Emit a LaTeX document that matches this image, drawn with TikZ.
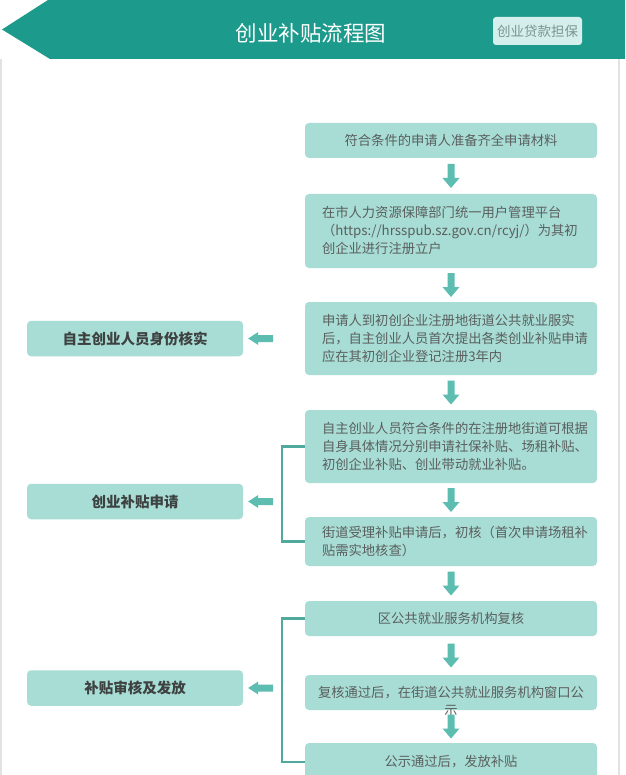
\documentclass[tikz,border=0pt]{standalone}
\usepackage{fontspec}
\setmainfont{Noto Sans CJK SC}
\usetikzlibrary{calc}
\definecolor{headc}{HTML}{1C9A8B}
\definecolor{boxc}{HTML}{A8DDD5}
\definecolor{arrc}{HTML}{5DBDB1}
\definecolor{brc}{HTML}{4FA99C}
\definecolor{txtc}{HTML}{5A5F5E}
\definecolor{ltxtc}{HTML}{3D4241}
\definecolor{btnc}{HTML}{D4EFEC}
\definecolor{btntxt}{HTML}{7B9591}
\definecolor{edgec}{HTML}{E2E2E2}
\tikzset{
  mainbox/.style={fill=boxc, rounded corners=4pt, minimum width=292pt, inner sep=0pt,
    text=txtc, font=\fontsize{13.3pt}{18pt}\selectfont, align=center},
  boxtext/.style={anchor=west, inner sep=0pt, text=txtc, align=left,
    font=\fontsize{13.3pt}{18pt}\selectfont},
  sidebox/.style={fill=boxc, rounded corners=4pt, minimum width=216pt, minimum height=35.5pt,
    inner sep=0pt, text=ltxtc, font=\fontsize{14.5pt}{17pt}\selectfont\bfseries},
  bracket/.style={draw=brc, line width=2.5pt},
  downarr/.pic={\fill[arrc] (-3.5,-12) -- (3.5,-12) -- (3.5,2) -- (8.5,2) -- (0,12) -- (-8.5,2) -- (-3.5,2) -- cycle;},
  leftarr/.pic={\fill[arrc] (12.5,-3.5) -- (-2.5,-3.5) -- (-2.5,-6.5) -- (-12.5,0) -- (-2.5,6.5) -- (-2.5,3.5) -- (12.5,3.5) -- cycle;}
}
\begin{document}
\begin{tikzpicture}[x=1pt,y=-1pt]
\useasboundingbox (0,0) rectangle (625,775);
\clip (0,0) rectangle (625,775);
\fill[white] (0,0) rectangle (625,775);
% page edges
\draw[edgec, line width=1.5pt] (1,59) -- (1,775);
\draw[edgec, line width=1.5pt] (619,59) -- (619,775);
% header
\fill[headc] (2,29.5) -- (48,0) -- (625,0) -- (625,59) -- (50,59) -- cycle;
\node[text=white, font=\fontsize{21.5pt}{24pt}\selectfont, inner sep=0pt] (title) at (311,33) {创业补贴流程图};
\node[fill=btnc, rounded corners=3pt, minimum width=89pt, minimum height=28pt, inner sep=0pt,
  text=btntxt, font=\fontsize{13.5pt}{15pt}\selectfont] (btn) at (537.5,31) {创业贷款担保};
% main boxes
\node[mainbox, minimum height=35pt] (b1) at (451,140.5) {符合条件的申请人准备齐全申请材料};
\node[mainbox, minimum height=74pt] (b2) at (451,231) {};
\node[boxtext] (t2) at ($(b2.west)+(17,-1)$) {在市人力资源保障部门统一用户管理平台\\（https://hrsspub.sz.gov.cn/rcyj/）为其初\\创企业进行注册立户};
\node[mainbox, minimum height=73pt] (b3) at (451,338.5) {};
\node[boxtext] (t3) at ($(b3.west)+(17,0)$) {申请人到初创企业注册地街道公共就业服实\\后，自主创业人员首次提出各类创业补贴申请\\应在其初创企业登记注册3年内};
\node[mainbox, minimum height=73pt] (b4) at (451,446.5) {};
\node[boxtext] (t4) at ($(b4.west)+(17,0)$) {自主创业人员符合条件的在注册地街道可根据\\自身具体情况分别申请社保补贴、场租补贴、\\初创企业补贴、创业带动就业补贴。};
\node[mainbox, minimum height=49pt] (b5) at (451,541.5) {};
\node[boxtext] (t5) at ($(b5.west)+(17,0)$) {街道受理补贴申请后，初核（首次申请场租补\\贴需实地核查）};
\node[mainbox, minimum height=35pt] (b6) at (451,618.5) {区公共就业服务机构复核};
\node[mainbox, minimum height=35pt] (b7) at (451,692.5) {};
\node[inner sep=0pt, text=txtc, align=center, font=\fontsize{13.3pt}{18pt}\selectfont] (t7) at ($(b7.center)+(0,8.5)$) {复核通过后，在街道公共就业服务机构窗口公\\示};
\node[mainbox, minimum height=38pt] (b8) at (451,762) {公示通过后，发放补贴};
% down arrows
\pic at ($(b1.south)!0.5!(b2.north)$) {downarr};
\pic at ($(b2.south)!0.5!(b3.north)$) {downarr};
\pic at ($(b3.south)!0.5!(b4.north)$) {downarr};
\pic at ($(b4.south)!0.5!(b5.north)$) {downarr};
\pic at ($(b5.south)!0.5!(b6.north)$) {downarr};
\pic at ($(b6.south)!0.5!(b7.north)$) {downarr};
\pic at ($(b7.south)!0.5!(b8.north)$) {downarr};
% side boxes
\node[sidebox] (s1) at (135,338.5) {自主创业人员身份核实};
\node[sidebox] (s2) at (135,501.5) {创业补贴申请};
\node[sidebox] (s3) at (135,688) {补贴审核及发放};
\pic at ($(s1.east)+(17.5,0)$) {leftarr};
\pic at ($(s2.east)+(17.5,0)$) {leftarr};
\pic at ($(s3.east)+(17.5,0)$) {leftarr};
% brackets
\draw[bracket] (b4.west) -- ++(-23,0) |- (b5.west);
\draw[bracket] (b6.west) -- ++(-23,0) |- (b8.west);
\end{tikzpicture}
\end{document}
